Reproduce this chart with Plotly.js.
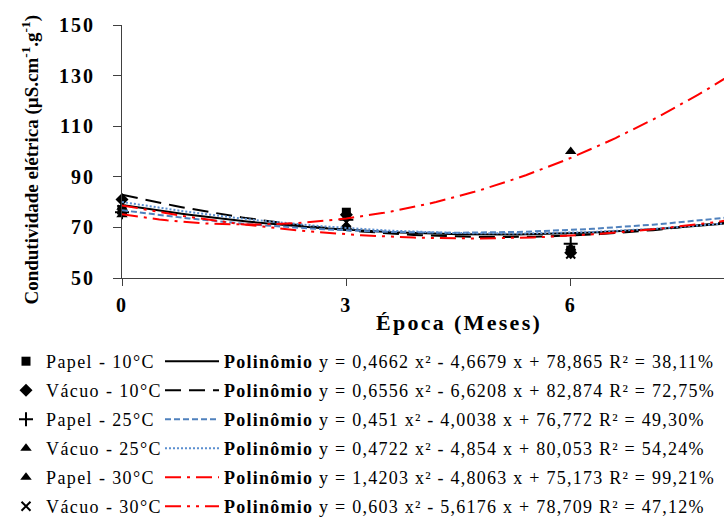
<!DOCTYPE html>
<html><head><meta charset="utf-8">
<script src="https://cdn.plot.ly/plotly-3.0.1.min.js"></script>
<style>
html,body{margin:0;padding:0;background:#fff;overflow:hidden}
.xtick text,.ytick text{letter-spacing:2px}
</style>
</head><body><div id="chart" style="width:724px;height:517px"></div>
<script>
// Data
const months = [0, 3, 6];
const seriesNames = ['Papel - 10°C', 'Vácuo - 10°C', 'Papel - 25°C', 'Vácuo - 25°C', 'Papel - 30°C', 'Vácuo - 30°C'];
const papel10 = [77, 76, 61];
const vacuo10 = [81, 75, 60];
const papel25 = [76, 73, 63.5];
const vacuo25 = [78, 70, 62];
const papel30 = [75, 70.5, 100];
const vacuo30 = [77, 72, 59.5];
const seriesValues = [papel10, vacuo10, papel25, vacuo25, papel30, vacuo30];
// Trend-line coefficients printed on the chart: y = a x² + b x + c
const coefA = [0.4662, 0.6556, 0.451, 0.4722, 1.4203, 0.603];
const coefB = [-4.6679, -6.6208, -4.0038, -4.854, -4.8063, -5.6176];
const coefC = [78.865, 82.874, 76.772, 80.053, 75.173, 78.709];
const eqLabels = [
  'y = 0,4662 x² - 4,6679 x + 78,865 R² = 38,11%',
  'y = 0,6556 x² - 6,6208 x + 82,874 R² = 72,75%',
  'y = 0,451 x² - 4,0038 x + 76,772 R² = 49,30%',
  'y = 0,4722 x² - 4,854 x + 80,053 R² = 54,24%',
  'y = 1,4203 x² - 4,8063 x + 75,173 R² = 99,21%',
  'y = 0,603 x² - 5,6176 x + 78,709 R² = 47,12%'
];
const xTicks = [0, 3, 6];
const yTicks = [50, 70, 90, 110, 130, 150];
const xTitle = 'Época (Meses)';
const yTitle = 'Condutividade elétrica (µS.cm<sup>-1</sup>.g<sup>-1</sup>)';

// Styles
const markerSymbols = ['square', 'diamond', 'cross-thin-open', 'triangle-up', 'triangle-up', 'x-thin-open'];
const markerSizes = [9, 10, 10, 10, 10, 9];
const lineColors = ['#000000', '#000000', '#4F81BD', '#5B8FD0', '#FF0000', '#FF0000'];
const lineDashes = ['solid', '16px,8px', '6px,3px', '2px,2px', '16px,6px,3px,6px', '16px,6px,3px,6px,3px,6px'];
const serif = 'Liberation Serif';
const spaced = (s, px) => '<span style="letter-spacing:' + px + 'px">' + s + '</span>';

const fitX = [];
for (let i = 0; i <= 85; i++) fitX.push(i * 0.1);

const traces = [];
seriesNames.forEach((name, i) => {
  traces.push({
    x: months, y: seriesValues[i], type: 'scatter', mode: 'markers', name: spaced(name, 1.4),
    legend: 'legend', legendgroup: 'm' + i,
    marker: {symbol: markerSymbols[i], size: markerSizes[i], color: '#000',
             line: {color: '#000', width: (i === 2 || i === 5) ? 2 : 0}},
    cliponaxis: false
  });
});
seriesNames.forEach((name, i) => {
  traces.push({
    x: fitX, y: fitX.map(x => coefA[i] * x * x + coefB[i] * x + coefC[i]),
    type: 'scatter', mode: 'lines', name: spaced('<b>Polinômio</b> ' + eqLabels[i], 1.25),
    legend: 'legend2', legendgroup: 'l' + i,
    line: {color: lineColors[i], dash: lineDashes[i], width: 2}
  });
});

const legendTop = 1 - 343 / 517;
const legendFont = {family: serif, size: 18, color: '#000'};
const layout = {
  width: 724, height: 517,
  margin: {l: 122, r: 0, t: 25, b: 239, autoexpand: false},
  paper_bgcolor: '#fff', plot_bgcolor: '#fff',
  showlegend: true,
  xaxis: {
    range: [0, 8.05], tickvals: xTicks, ticktext: xTicks.map(String),
    showgrid: false, zeroline: false, showline: true, linecolor: '#404040', linewidth: 1,
    ticks: 'outside', ticklen: 7, tickcolor: '#404040', ticklabelstandoff: 2,
    tickfont: {family: serif, size: 20, color: '#000', weight: 'bold'}
  },
  yaxis: {
    range: [50, 150], tickvals: yTicks, ticktext: yTicks.map(String),
    showgrid: false, zeroline: false, showline: true, linecolor: '#404040', linewidth: 1,
    ticks: 'outside', ticklen: 8, tickcolor: '#404040', ticklabelstandoff: 14,
    tickfont: {family: serif, size: 20, color: '#000', weight: 'bold'}
  },
  annotations: [{
    text: spaced('<b>' + xTitle + '</b>', 2.3), xref: 'x', x: 4.5, yref: 'paper', y: -0.174,
    xanchor: 'center', yanchor: 'middle', showarrow: false,
    font: {family: serif, size: 22, color: '#000'}
  }, {
    text: '<b>' + yTitle + '</b>', xref: 'paper', x: -0.152, yref: 'paper', y: 0.47,
    xanchor: 'center', yanchor: 'middle', showarrow: false, textangle: -90,
    font: {family: serif, size: 19, color: '#000'}
  }],
  legend: {xref: 'container', yref: 'container', x: 6 / 724, xanchor: 'left', y: legendTop, yanchor: 'top',
           orientation: 'v', font: legendFont, tracegroupgap: 2.6,
           bgcolor: 'rgba(0,0,0,0)', traceorder: 'grouped'},
  legend2: {xref: 'container', yref: 'container', x: 160 / 724, xanchor: 'left', y: legendTop, yanchor: 'top',
            orientation: 'v', font: legendFont, tracegroupgap: 2.6,
            bgcolor: 'rgba(0,0,0,0)', traceorder: 'grouped', itemwidth: 54}
};

Plotly.newPlot('chart', traces, layout, {displayModeBar: false, responsive: false});
</script></body></html>
